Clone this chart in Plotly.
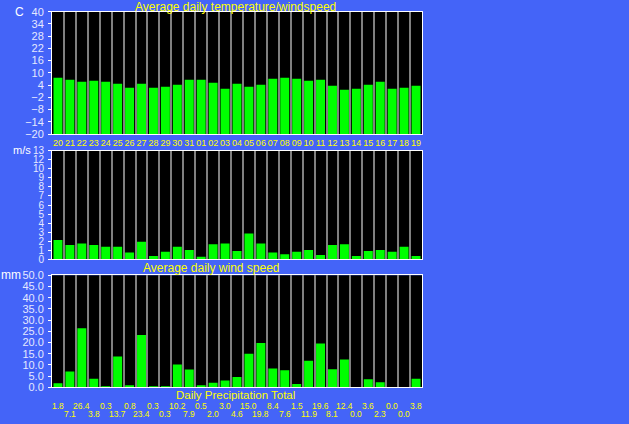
import plotly.graph_objects as go

days = ["20", "21", "22", "23", "24", "25", "26", "27", "28", "29", "30", "31",
        "01", "02", "03", "04", "05", "06", "07", "08", "09", "10", "11", "12",
        "13", "14", "15", "16", "17", "18", "19"]
temperature = [7.6, 6.6, 5.6, 6.1, 5.6, 4.7, 2.7, 4.7, 2.7, 3.2, 4.2, 6.6, 6.6, 5.1, 2.2, 4.7,
               3.2, 4.2, 7.1, 7.6, 7.1, 6.1, 6.6, 3.7, 1.7, 2.2, 4.2, 5.6, 2.2, 2.7, 3.7]
windspeed = [2.3, 1.7, 1.9, 1.7, 1.5, 1.5, 0.8, 2.1, 0.4, 0.9, 1.5, 1.1, 0.3, 1.8, 1.9, 1.0,
             3.1, 1.9, 0.8, 0.6, 0.9, 1.1, 0.5, 1.7, 1.8, 0.4, 1.0, 1.1, 0.9, 1.5, 0.4]
precip = [1.8, 7.1, 26.4, 3.8, 0.3, 13.7, 0.8, 23.4, 0.3, 0.3, 10.2, 7.9, 0.5, 2.0, 3.0, 4.6,
          15.0, 19.8, 8.4, 7.6, 1.5, 11.9, 19.6, 8.1, 12.4, 0.0, 3.6, 2.3, 0.0, 0.0, 3.8]
temp_ticks = [-20, -14, -8, -2, 4, 10, 16, 22, 28, 34, 40]
wind_ticktext = ["0", "1", "2", "3", "4", "5", "6", "7", "8", "9", "10", "12", "13"]
wind_max = 13
precip_ticks = [0, 5, 10, 15, 20, 25, 30, 35, 40, 45, 50]
temp_min = -20

W, H = 629, 424
BG = "#4464F8"
BAR = "#00FF00"
GRID = "#808080"
TICKC = "#E4E8FF"
YEL = "#FFFF00"
FONT = "Liberation Sans"

x0, x1 = 52 / W, 422 / W
def dom(top, bottom):
    return [1 - bottom / H, 1 - top / H]

fig = go.Figure()
fig.add_trace(go.Bar(x=days, y=[t - temp_min for t in temperature], base=temp_min,
                     marker=dict(color=BAR, line=dict(width=0)), xaxis="x", yaxis="y",
                     customdata=temperature, hovertemplate="%{x}: %{customdata} C<extra></extra>"))
fig.add_trace(go.Bar(x=days, y=windspeed, marker=dict(color=BAR, line=dict(width=0)),
                     xaxis="x2", yaxis="y2"))
fig.add_trace(go.Bar(x=days, y=precip, marker=dict(color=BAR, line=dict(width=0)),
                     xaxis="x3", yaxis="y3"))

xcommon = dict(domain=[x0, x1], type="category", tickson="boundaries", showgrid=True,
               gridcolor=GRID, gridwidth=2, ticks="", showline=True, linecolor="#FFFFFF",
               linewidth=1, mirror=True, range=[-0.5, len(days) - 0.5], fixedrange=True,
               tickmode="array", tickvals=days, ticktext=days, tickangle=0, automargin=False)
ycommon = dict(showgrid=False, zeroline=False, ticks="outside", ticklen=3, tickcolor="#FFFFFF",
               showline=True, linecolor="#FFFFFF", linewidth=1, mirror=True,
               ticklabelstandoff=2, automargin=False, fixedrange=True)

fig.update_layout(
    width=W, height=H, margin=dict(l=0, r=0, t=0, b=0, pad=0), autosize=False,
    paper_bgcolor=BG, plot_bgcolor="#000000", showlegend=False, bargap=0.25,
    font=dict(family=FONT),
    xaxis=dict(**xcommon, anchor="y", showticklabels=True,
               tickfont=dict(family=FONT, size=9, color=YEL)),
    xaxis2=dict(**xcommon, anchor="y2", showticklabels=False),
    xaxis3=dict(**xcommon, anchor="y3", showticklabels=False),
    yaxis=dict(**ycommon, domain=dom(11.7, 134), range=[temp_ticks[0], temp_ticks[-1]],
               tickvals=temp_ticks, anchor="x",
               tickfont=dict(family=FONT, size=11, color=TICKC)),
    yaxis2=dict(**ycommon, domain=dom(150.7, 259.3), range=[0, wind_max],
                tickvals=[wind_max * k / (len(wind_ticktext) - 1) for k in range(len(wind_ticktext))],
                ticktext=wind_ticktext, anchor="x2",
                tickfont=dict(family=FONT, size=10, color=TICKC)),
    yaxis3=dict(**ycommon, domain=dom(275.3, 387.3), range=[precip_ticks[0], precip_ticks[-1]],
                tickvals=precip_ticks, tickformat=".1f", anchor="x3",
                tickfont=dict(family=FONT, size=11, color=TICKC)),
)

ann = []
def txt(x, y, s, color, size, xanchor="center"):
    ann.append(dict(x=x / W, y=1 - y / H, xref="paper", yref="paper", text=s, showarrow=False,
                    xanchor=xanchor, yanchor="middle", font=dict(family=FONT, size=size, color=color)))

txt(235, 6.5, "Average daily temperature/windspeed", YEL, 12)
txt(211.5, 267.5, "Average daily wind speed", YEL, 12)
txt(235, 395, "Daily Precipitation Total", YEL, 11.5)
txt(19, 11.7, "C", "#FFFFFF", 12)
txt(21.5, 150, "m/s", "#FFFFFF", 11)
txt(11, 275, "mm", "#FFFFFF", 12)

for i, p in enumerate(precip):
    ann.append(dict(x=i, xref="x3", y=1 - (405.5 if i % 2 == 0 else 413.5) / H, yref="paper",
                    text=f"{p:.1f}", showarrow=False, xanchor="center", yanchor="middle",
                    font=dict(family=FONT, size=8.5, color=YEL)))

fig.update_layout(annotations=ann)
fig.write_html("out.html", config={"displayModeBar": False}, post_script=(
    "document.body.style.margin='0';document.body.style.padding='0';"
    "document.body.style.background='" + BG + "';document.body.style.overflow='hidden';"))
